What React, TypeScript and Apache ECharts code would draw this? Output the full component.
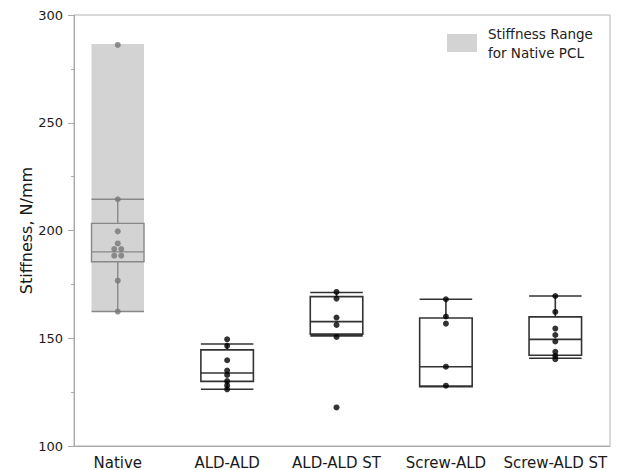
import React, { useEffect, useRef } from "react";
import * as echarts from "echarts";

const categories = ["Native", "ALD-ALD", "ALD-ALD ST", "Screw-ALD", "Screw-ALD ST"];

// box stats: [low whisker, Q1, median, Q3, high whisker]
const boxStats = [
  [162.4, 185.5, 190.1, 203.3, 214.5],
  [126.3, 130.0, 133.9, 144.6, 147.3],
  [151.1, 151.9, 157.7, 169.3, 171.2],
  [127.8, 127.5, 136.8, 159.4, 168.1],
  [140.7, 142.1, 149.5, 159.9, 169.6],
];

const nativeRange = [162.4, 286.6];

const nativePoints = [286.1, 214.5, 199.6, 194.0, 191.4, 191.4, 188.3, 188.3, 176.7, 162.4];
const nativeJitter = [0, 0, 0, 0, -1, 1, -1, 1, 0, 0];
const aldAldPoints = [149.5, 146.5, 139.8, 135.0, 133.0, 130.1, 128.1, 126.3];
const aldAldStPoints = [171.5, 168.4, 159.6, 156.2, 150.6, 117.9];
const screwAldPoints = [168.1, 160.1, 156.8, 136.8, 128.0];
const screwAldStPoints = [169.6, 162.2, 154.5, 151.5, 148.5, 143.7, 141.8, 140.3];

const yTicks = { min: 100, max: 300, interval: 50 };

const FONT = "DejaVu Sans";

export default function App() {
  const ref = useRef<HTMLDivElement>(null);
  useEffect(() => {
    if (!ref.current) return;
    const chart = echarts.init(ref.current, undefined, { renderer: "svg" });
    const hw = 0.24;
    const jit = 0.032;
    const nativeData = nativePoints.map((v, i) => [0 + nativeJitter[i] * jit, v]);
    const otherData: number[][] = [];
    [aldAldPoints, aldAldStPoints, screwAldPoints, screwAldStPoints].forEach((arr, gi) => {
      arr.forEach((v) => otherData.push([gi + 1, v]));
    });
    const boxData = boxStats.map((s, i) => [i, ...s]);

    chart.setOption({
      animation: false,
      textStyle: { fontFamily: FONT },
      grid: {
        left: 74,
        right: 9,
        top: 15,
        bottom: 23,
        show: true,
        borderColor: "#b3b3b3",
        borderWidth: 1,
        backgroundColor: "transparent",
      },
      legend: {
        left: 447,
        top: 24,
        padding: 0,
        selectedMode: false,
        itemWidth: 30,
        itemHeight: 18,
        icon: "rect",
        data: ["Stiffness Range\nfor Native PCL"],
        textStyle: {
          fontFamily: FONT,
          fontSize: 13.5,
          lineHeight: 19,
          color: "#222",
          padding: [0, 0, 0, 6],
        },
      },
      xAxis: {
        type: "value",
        min: -0.4,
        max: 4.5,
        splitLine: { show: false },
        axisTick: { show: false },
        axisLine: { show: true, onZero: false, lineStyle: { color: "#aaa" } },
        axisLabel: {
          customValues: [0, 1, 2, 3, 4],
          formatter: (v: number) => categories[Math.round(v)] ?? "",
          fontFamily: FONT,
          fontSize: 15,
          color: "#1a1a1a",
          margin: 9,
        },
      },
      yAxis: {
        type: "value",
        min: yTicks.min,
        max: yTicks.max,
        interval: yTicks.interval,
        name: "Stiffness, N/mm",
        nameLocation: "middle",
        nameGap: 40,
        nameMoveOverlap: false,
        nameTextStyle: { fontFamily: FONT, fontSize: 16, color: "#1a1a1a" },
        splitLine: { show: false },
        axisLine: { show: true, onZero: false, lineStyle: { color: "#aaa" } },
        axisTick: { show: true, length: 6, lineStyle: { color: "#aaa" } },
        minorTick: { show: true, splitNumber: 2, length: 3, lineStyle: { color: "#aaa" } },
        minorSplitLine: { show: false },
        axisLabel: { fontFamily: FONT, fontSize: 13, color: "#1a1a1a", margin: 11 },
      },
      series: [
        {
          name: "Stiffness Range\nfor Native PCL",
          type: "custom",
          itemStyle: { color: "#d3d3d3" },
          encode: { x: 0, y: [1, 2] },
          data: [[0, nativeRange[0], nativeRange[1]]],
          renderItem: (params: any, api: any) => {
            const x = api.value(0);
            const tl = api.coord([x - hw, api.value(2)]);
            const br = api.coord([x + hw, api.value(1)]);
            return {
              type: "rect",
              shape: { x: tl[0], y: tl[1], width: br[0] - tl[0], height: br[1] - tl[1] },
              style: { fill: "#d3d3d3" },
            };
          },
          z: 1,
        },
        {
          name: "box",
          type: "custom",
          encode: { x: 0, y: [1, 2, 3, 4, 5] },
          data: boxData,
          renderItem: (params: any, api: any) => {
            const x = api.value(0);
            const lo = api.value(1);
            const q1 = api.value(2);
            const med = api.value(3);
            const q3 = api.value(4);
            const hi = api.value(5);
            const color = params.dataIndex === 0 ? "#888888" : "#333333";
            const lw = params.dataIndex === 0 ? 1.4 : 1.6;
            const L = (a: number[], b: number[]) => ({
              type: "line",
              shape: { x1: a[0], y1: a[1], x2: b[0], y2: b[1] },
              style: { stroke: color, lineWidth: lw },
            });
            const tl = api.coord([x - hw, q3]);
            const br = api.coord([x + hw, q1]);
            return {
              type: "group",
              children: [
                L(api.coord([x, q3]), api.coord([x, hi])),
                L(api.coord([x, q1]), api.coord([x, lo])),
                L(api.coord([x - hw, hi]), api.coord([x + hw, hi])),
                L(api.coord([x - hw, lo]), api.coord([x + hw, lo])),
                {
                  type: "rect",
                  shape: { x: tl[0], y: tl[1], width: br[0] - tl[0], height: br[1] - tl[1] },
                  style: { fill: "none", stroke: color, lineWidth: lw },
                },
                L(api.coord([x - hw, med]), api.coord([x + hw, med])),
              ],
            };
          },
          z: 2,
        },
        {
          name: "native points",
          type: "scatter",
          symbolSize: 6,
          itemStyle: { color: "#777777" },
          data: nativeData,
          z: 3,
        },
        {
          name: "points",
          type: "scatter",
          symbolSize: 6,
          itemStyle: { color: "#000000" },
          data: otherData,
          z: 3,
        },
      ],
    });
    return () => chart.dispose();
  }, []);
  return (
    <div
      ref={ref}
      style={{ position: "fixed", left: 0, top: 0, width: 619, height: 470, background: "#fff" }}
    />
  );
}
